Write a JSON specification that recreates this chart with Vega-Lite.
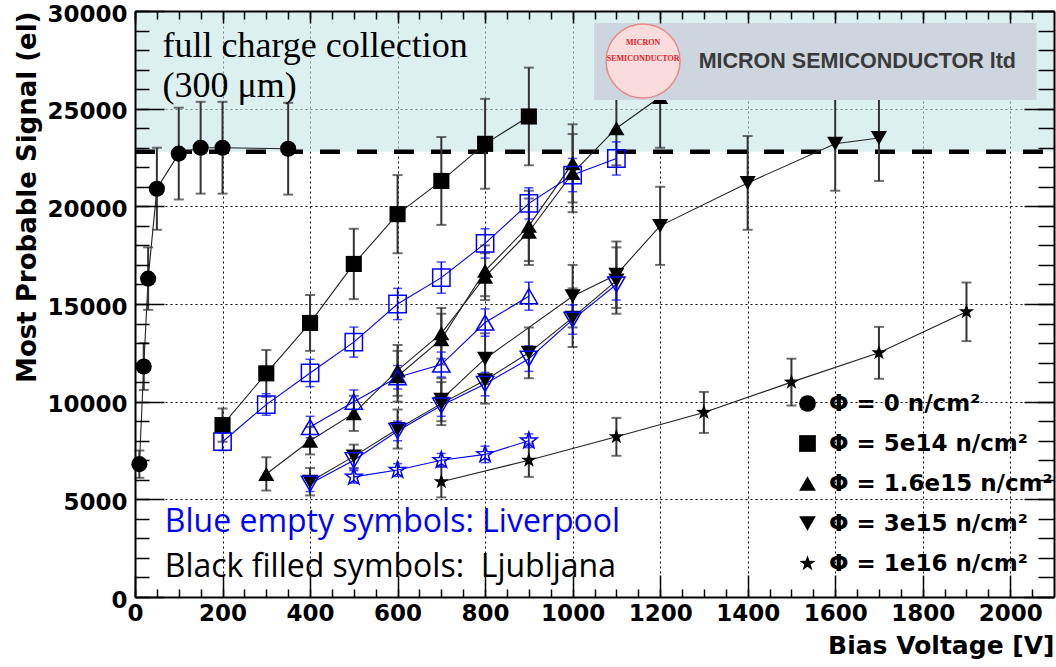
{
  "$schema": "https://vega.github.io/schema/vega-lite/v6.json",
  "width": 919,
  "height": 586,
  "autosize": {"type": "none"},
  "padding": {"left": 135, "top": 11, "right": 2, "bottom": 70},
  "background": "white",
  "config": {"view": {"stroke": null}, "axis": {"domain": false}},
  "datasets": {
    "zone": [{"zone": "full charge collection", "V0": 0, "V1": 2100, "S0": 22800, "S1": 30000}],
    "lj": [
      {"series": "L0", "fluence": "Φ = 0 n/cm²", "V": 10, "S": 6800, "err": 700},
      {"series": "L0", "fluence": "Φ = 0 n/cm²", "V": 20, "S": 11800, "err": 1200},
      {"series": "L0", "fluence": "Φ = 0 n/cm²", "V": 30, "S": 16300, "err": 1600},
      {"series": "L0", "fluence": "Φ = 0 n/cm²", "V": 50, "S": 20900, "err": 2100},
      {"series": "L0", "fluence": "Φ = 0 n/cm²", "V": 100, "S": 22700, "err": 2350},
      {"series": "L0", "fluence": "Φ = 0 n/cm²", "V": 150, "S": 23000, "err": 2350},
      {"series": "L0", "fluence": "Φ = 0 n/cm²", "V": 200, "S": 23000, "err": 2350},
      {"series": "L0", "fluence": "Φ = 0 n/cm²", "V": 350, "S": 22950, "err": 2350},
      {"series": "L5e14", "fluence": "Φ = 5e14 n/cm²", "V": 200, "S": 8800, "err": 850},
      {"series": "L5e14", "fluence": "Φ = 5e14 n/cm²", "V": 300, "S": 11450, "err": 1200},
      {"series": "L5e14", "fluence": "Φ = 5e14 n/cm²", "V": 400, "S": 14030, "err": 1430},
      {"series": "L5e14", "fluence": "Φ = 5e14 n/cm²", "V": 500, "S": 17050, "err": 1800},
      {"series": "L5e14", "fluence": "Φ = 5e14 n/cm²", "V": 600, "S": 19600, "err": 2000},
      {"series": "L5e14", "fluence": "Φ = 5e14 n/cm²", "V": 700, "S": 21300, "err": 2250},
      {"series": "L5e14", "fluence": "Φ = 5e14 n/cm²", "V": 800, "S": 23200, "err": 2300},
      {"series": "L5e14", "fluence": "Φ = 5e14 n/cm²", "V": 900, "S": 24600, "err": 2500},
      {"series": "L16a", "fluence": "Φ = 1.6e15 n/cm²", "V": 300, "S": 6300, "err": 850},
      {"series": "L16a", "fluence": "Φ = 1.6e15 n/cm²", "V": 400, "S": 8000, "err": 700},
      {"series": "L16a", "fluence": "Φ = 1.6e15 n/cm²", "V": 500, "S": 9400, "err": 900},
      {"series": "L16a", "fluence": "Φ = 1.6e15 n/cm²", "V": 600, "S": 11600, "err": 1300},
      {"series": "L16a", "fluence": "Φ = 1.6e15 n/cm²", "V": 700, "S": 13500, "err": 1300},
      {"series": "L16a", "fluence": "Φ = 1.6e15 n/cm²", "V": 800, "S": 16400, "err": 1200},
      {"series": "L16a", "fluence": "Φ = 1.6e15 n/cm²", "V": 900, "S": 18700, "err": 1700},
      {"series": "L16a", "fluence": "Φ = 1.6e15 n/cm²", "V": 1000, "S": 21700, "err": 2000},
      {"series": "L16a", "fluence": "Φ = 1.6e15 n/cm²", "V": 1100, "S": 24000, "err": 1900},
      {"series": "L16a", "fluence": "Φ = 1.6e15 n/cm²", "V": 1200, "S": 25600, "err": 2600},
      {"series": "L16b", "fluence": "Φ = 1.6e15 n/cm²", "V": 600, "S": 11300, "err": 1300},
      {"series": "L16b", "fluence": "Φ = 1.6e15 n/cm²", "V": 700, "S": 13200, "err": 1300},
      {"series": "L16b", "fluence": "Φ = 1.6e15 n/cm²", "V": 800, "S": 16700, "err": 1300},
      {"series": "L16b", "fluence": "Φ = 1.6e15 n/cm²", "V": 900, "S": 19000, "err": 1800},
      {"series": "L16b", "fluence": "Φ = 1.6e15 n/cm²", "V": 1000, "S": 22200, "err": 2000},
      {"series": "L3a", "fluence": "Φ = 3e15 n/cm²", "V": 400, "S": 5900, "err": 700},
      {"series": "L3a", "fluence": "Φ = 3e15 n/cm²", "V": 500, "S": 7200, "err": 600},
      {"series": "L3a", "fluence": "Φ = 3e15 n/cm²", "V": 600, "S": 8600, "err": 1000},
      {"series": "L3a", "fluence": "Φ = 3e15 n/cm²", "V": 700, "S": 9900, "err": 1100},
      {"series": "L3a", "fluence": "Φ = 3e15 n/cm²", "V": 800, "S": 11100, "err": 1200},
      {"series": "L3a", "fluence": "Φ = 3e15 n/cm²", "V": 900, "S": 12500, "err": 1300},
      {"series": "L3a", "fluence": "Φ = 3e15 n/cm²", "V": 1000, "S": 14300, "err": 1500},
      {"series": "L3a", "fluence": "Φ = 3e15 n/cm²", "V": 1100, "S": 16200, "err": 1700},
      {"series": "L3b", "fluence": "Φ = 3e15 n/cm²", "V": 700, "S": 10100, "err": 1100},
      {"series": "L3b", "fluence": "Φ = 3e15 n/cm²", "V": 800, "S": 12200, "err": 1300},
      {"series": "L3b", "fluence": "Φ = 3e15 n/cm²", "V": 1000, "S": 15400, "err": 1600},
      {"series": "L3b", "fluence": "Φ = 3e15 n/cm²", "V": 1100, "S": 16500, "err": 1700},
      {"series": "L3b", "fluence": "Φ = 3e15 n/cm²", "V": 1200, "S": 19000, "err": 2000},
      {"series": "L3b", "fluence": "Φ = 3e15 n/cm²", "V": 1400, "S": 21200, "err": 2400},
      {"series": "L3b", "fluence": "Φ = 3e15 n/cm²", "V": 1600, "S": 23200, "err": 2400},
      {"series": "L3b", "fluence": "Φ = 3e15 n/cm²", "V": 1700, "S": 23500, "err": 2200},
      {"series": "L1e16", "fluence": "Φ = 1e16 n/cm²", "V": 700, "S": 5900, "err": 800},
      {"series": "L1e16", "fluence": "Φ = 1e16 n/cm²", "V": 900, "S": 7000, "err": 850},
      {"series": "L1e16", "fluence": "Φ = 1e16 n/cm²", "V": 1100, "S": 8200, "err": 970},
      {"series": "L1e16", "fluence": "Φ = 1e16 n/cm²", "V": 1300, "S": 9450, "err": 1050},
      {"series": "L1e16", "fluence": "Φ = 1e16 n/cm²", "V": 1500, "S": 11000, "err": 1200},
      {"series": "L1e16", "fluence": "Φ = 1e16 n/cm²", "V": 1700, "S": 12500, "err": 1330},
      {"series": "L1e16", "fluence": "Φ = 1e16 n/cm²", "V": 1900, "S": 14600, "err": 1500}
    ],
    "lv": [
      {"series": "V5e14", "fluence": "Φ = 5e14 n/cm²", "V": 200, "S": 7950, "err": 450},
      {"series": "V5e14", "fluence": "Φ = 5e14 n/cm²", "V": 300, "S": 9850, "err": 550},
      {"series": "V5e14", "fluence": "Φ = 5e14 n/cm²", "V": 400, "S": 11470, "err": 700},
      {"series": "V5e14", "fluence": "Φ = 5e14 n/cm²", "V": 500, "S": 13050, "err": 770},
      {"series": "V5e14", "fluence": "Φ = 5e14 n/cm²", "V": 600, "S": 15000, "err": 800},
      {"series": "V5e14", "fluence": "Φ = 5e14 n/cm²", "V": 700, "S": 16350, "err": 800},
      {"series": "V5e14", "fluence": "Φ = 5e14 n/cm²", "V": 800, "S": 18100, "err": 750},
      {"series": "V5e14", "fluence": "Φ = 5e14 n/cm²", "V": 900, "S": 20150, "err": 800},
      {"series": "V5e14", "fluence": "Φ = 5e14 n/cm²", "V": 1000, "S": 21600, "err": 850},
      {"series": "V5e14", "fluence": "Φ = 5e14 n/cm²", "V": 1100, "S": 22450, "err": 850},
      {"series": "V16", "fluence": "Φ = 1.6e15 n/cm²", "V": 400, "S": 8700, "err": 550},
      {"series": "V16", "fluence": "Φ = 1.6e15 n/cm²", "V": 500, "S": 10000, "err": 600},
      {"series": "V16", "fluence": "Φ = 1.6e15 n/cm²", "V": 600, "S": 11250, "err": 600},
      {"series": "V16", "fluence": "Φ = 1.6e15 n/cm²", "V": 700, "S": 11900, "err": 640},
      {"series": "V16", "fluence": "Φ = 1.6e15 n/cm²", "V": 800, "S": 14050, "err": 700},
      {"series": "V16", "fluence": "Φ = 1.6e15 n/cm²", "V": 900, "S": 15400, "err": 720},
      {"series": "V3", "fluence": "Φ = 3e15 n/cm²", "V": 400, "S": 5800, "err": 400},
      {"series": "V3", "fluence": "Φ = 3e15 n/cm²", "V": 500, "S": 7000, "err": 450},
      {"series": "V3", "fluence": "Φ = 3e15 n/cm²", "V": 600, "S": 8500, "err": 500},
      {"series": "V3", "fluence": "Φ = 3e15 n/cm²", "V": 700, "S": 9800, "err": 550},
      {"series": "V3", "fluence": "Φ = 3e15 n/cm²", "V": 800, "S": 10900, "err": 600},
      {"series": "V3", "fluence": "Φ = 3e15 n/cm²", "V": 900, "S": 12200, "err": 650},
      {"series": "V3", "fluence": "Φ = 3e15 n/cm²", "V": 1000, "S": 14200, "err": 750},
      {"series": "V3", "fluence": "Φ = 3e15 n/cm²", "V": 1100, "S": 16000, "err": 800},
      {"series": "V1e16", "fluence": "Φ = 1e16 n/cm²", "V": 500, "S": 6150, "err": 320},
      {"series": "V1e16", "fluence": "Φ = 1e16 n/cm²", "V": 600, "S": 6500, "err": 330},
      {"series": "V1e16", "fluence": "Φ = 1e16 n/cm²", "V": 700, "S": 7000, "err": 350},
      {"series": "V1e16", "fluence": "Φ = 1e16 n/cm²", "V": 800, "S": 7300, "err": 420},
      {"series": "V1e16", "fluence": "Φ = 1e16 n/cm²", "V": 900, "S": 8000, "err": 350}
    ],
    "logo": [{"name": "MICRON SEMICONDUCTOR ltd", "V0": 1049, "V1": 2060, "S0": 25444, "S1": 29386, "Vc": 1161, "Sc": 27440, "Vt": 1288, "St": 27390}],
    "logoRed": [{"label": "MICRON", "V": 1161, "S": 28360}, {"label": "SEMICONDUCTOR", "V": 1161, "S": 27540}],
    "serif": [{"label": "full charge collection", "V": 63, "S": 27640}, {"label": "(300 μm)", "V": 63, "S": 25600}],
    "blueNote": [{"label": "Blue empty symbols: Liverpool", "V": 68, "S": 3330}],
    "blackNote": [{"label": "Black filled symbols:\u00a0 Ljubljana", "V": 68, "S": 1020}]
  },
  "resolve": {"axis": {"x": "independent", "y": "independent"}},
  "layer": [
    {
      "data": {"name": "zone"},
      "mark": {"type": "rect", "color": "#c4e6e6", "opacity": 0.6},
      "encoding": {
        "x": {"field": "V0", "type": "quantitative", "scale": {"domain": [0, 2100], "nice": false, "zero": false},
          "axis": {"orient": "bottom", "values": [0, 200, 400, 600, 800, 1000, 1200, 1400, 1600, 1800, 2000], "format": "d",
            "grid": true, "gridColor": "black", "gridDash": [2, 3], "gridWidth": 1, "gridOpacity": 1,
            "ticks": false, "domain": false, "labelFlush": false, "labelOverlap": false,
            "labelFont": "DejaVu Sans", "labelFontWeight": "bold", "labelFontSize": 23, "labelColor": "black", "labelPadding": 5,
            "title": "Bias Voltage [V]", "titleFont": "DejaVu Sans", "titleFontWeight": "bold", "titleFontSize": 25, "titleColor": "black",
            "titleAnchor": "end", "titlePadding": 8}},
        "x2": {"field": "V1"},
        "y": {"field": "S0", "type": "quantitative", "scale": {"domain": [0, 30000], "nice": false, "zero": false},
          "axis": {"orient": "left", "values": [0, 5000, 10000, 15000, 20000, 25000, 30000], "format": "d",
            "grid": true, "gridColor": "black", "gridDash": [2, 3], "gridWidth": 1, "gridOpacity": 1,
            "ticks": false, "domain": false, "labelFlush": false, "labelOverlap": false, "labelOffset": 3,
            "labelFont": "DejaVu Sans", "labelFontWeight": "bold", "labelFontSize": 23, "labelColor": "black", "labelPadding": 8,
            "title": "Most Probable Signal (el)", "titleFont": "DejaVu Sans", "titleFontWeight": "bold", "titleFontSize": 26, "titleColor": "black",
            "titleAnchor": "end", "titlePadding": 6}},
        "y2": {"field": "S1"}
      }
    },
    {
      "data": {"name": "zone"},
      "mark": {"type": "rule", "color": "black", "strokeWidth": 4.5, "strokeDash": [20, 17]},
      "encoding": {
        "x": {"field": "V0", "type": "quantitative",
          "axis": {"orient": "bottom", "values": [0, 200, 400, 600, 800, 1000, 1200, 1400, 1600, 1800, 2000], "labels": false, "grid": false, "title": null,
            "ticks": true, "tickSize": 22, "offset": -22, "tickColor": "black", "tickWidth": 1.5, "domain": false, "zindex": 1}},
        "x2": {"field": "V1"},
        "y": {"field": "S0", "type": "quantitative",
          "axis": {"orient": "left", "values": [0, 5000, 10000, 15000, 20000, 25000, 30000], "labels": false, "grid": false, "title": null,
            "ticks": true, "tickSize": 29, "offset": -29, "tickColor": "black", "tickWidth": 1.5, "domain": false, "zindex": 1}}
      }
    },
    {
      "data": {"name": "lj"},
      "mark": {"type": "line", "color": "#222222", "strokeWidth": 1.1},
      "encoding": {
        "x": {"field": "V", "type": "quantitative",
          "axis": {"orient": "bottom", "values": [0, 50, 100, 150, 200, 250, 300, 350, 400, 450, 500, 550, 600, 650, 700, 750, 800, 850, 900, 950, 1000, 1050, 1100, 1150, 1200, 1250, 1300, 1350, 1400, 1450, 1500, 1550, 1600, 1650, 1700, 1750, 1800, 1850, 1900, 1950, 2000, 2050],
            "labels": false, "grid": false, "title": null, "ticks": true, "tickSize": 8, "offset": -8, "tickColor": "black", "tickWidth": 1.5, "domain": false, "zindex": 1}},
        "y": {"field": "S", "type": "quantitative",
          "axis": {"orient": "left", "values": [0, 1000, 2000, 3000, 4000, 5000, 6000, 7000, 8000, 9000, 10000, 11000, 12000, 13000, 14000, 15000, 16000, 17000, 18000, 19000, 20000, 21000, 22000, 23000, 24000, 25000, 26000, 27000, 28000, 29000, 30000],
            "labels": false, "grid": false, "title": null, "ticks": true, "tickSize": 14, "offset": -14, "tickColor": "black", "tickWidth": 1.5, "domain": false, "zindex": 1}},
        "detail": {"field": "series"}
      }
    },
    {
      "data": {"name": "lv"},
      "mark": {"type": "line", "color": "#0000ff", "strokeWidth": 1.1},
      "encoding": {
        "x": {"field": "V", "type": "quantitative",
          "axis": {"orient": "top", "values": [0, 200, 400, 600, 800, 1000, 1200, 1400, 1600, 1800, 2000], "labels": false, "grid": false, "title": null,
            "ticks": true, "tickSize": 12, "offset": -12, "tickColor": "black", "tickWidth": 1.5, "domain": false, "zindex": 1}},
        "y": {"field": "S", "type": "quantitative",
          "axis": {"orient": "right", "values": [0, 5000, 10000, 15000, 20000, 25000, 30000], "labels": false, "grid": false, "title": null,
            "ticks": true, "tickSize": 30, "offset": -30, "tickColor": "black", "tickWidth": 1.5, "domain": false, "zindex": 1}},
        "detail": {"field": "series"}
      }
    },
    {
      "data": {"name": "lj"},
      "mark": {"type": "errorbar", "ticks": true, "color": "#333333", "thickness": 2, "size": 10},
      "encoding": {
        "x": {"field": "V", "type": "quantitative", "axis": null},
        "y": {"field": "S", "type": "quantitative", "axis": null},
        "yError": {"field": "err"}
      }
    },
    {
      "data": {"name": "lv"},
      "mark": {"type": "errorbar", "ticks": true, "color": "#0000ff", "thickness": 1.5, "size": 9},
      "encoding": {
        "x": {"field": "V", "type": "quantitative", "axis": null},
        "y": {"field": "S", "type": "quantitative", "axis": null},
        "yError": {"field": "err"}
      }
    },
    {
      "data": {"name": "lj"},
      "mark": {"type": "point", "filled": true, "color": "black", "size": 260, "opacity": 1},
      "encoding": {
        "x": {"field": "V", "type": "quantitative",
          "axis": {"orient": "top", "values": [0, 50, 100, 150, 200, 250, 300, 350, 400, 450, 500, 550, 600, 650, 700, 750, 800, 850, 900, 950, 1000, 1050, 1100, 1150, 1200, 1250, 1300, 1350, 1400, 1450, 1500, 1550, 1600, 1650, 1700, 1750, 1800, 1850, 1900, 1950, 2000, 2050],
            "labels": false, "grid": false, "title": null, "ticks": true, "tickSize": 8, "offset": -8, "tickColor": "black", "tickWidth": 1.5, "domain": false, "zindex": 1}},
        "y": {"field": "S", "type": "quantitative",
          "axis": {"orient": "right", "values": [0, 1000, 2000, 3000, 4000, 5000, 6000, 7000, 8000, 9000, 10000, 11000, 12000, 13000, 14000, 15000, 16000, 17000, 18000, 19000, 20000, 21000, 22000, 23000, 24000, 25000, 26000, 27000, 28000, 29000, 30000],
            "labels": false, "grid": false, "title": null, "ticks": true, "tickSize": 16, "offset": -16, "tickColor": "black", "tickWidth": 1.5, "domain": false, "zindex": 1}},
        "shape": {"field": "fluence", "type": "nominal",
          "scale": {"domain": ["Φ = 0 n/cm²", "Φ = 5e14 n/cm²", "Φ = 1.6e15 n/cm²", "Φ = 3e15 n/cm²", "Φ = 1e16 n/cm²"],
            "range": ["circle", "square", "triangle-up", "triangle-down", "M0,-1L0.235,-0.324L0.951,-0.309L0.38,0.124L0.588,0.809L0,0.4L-0.588,0.809L-0.38,0.124L-0.951,-0.309L-0.235,-0.324Z"]},
          "legend": {"orient": "none", "legendX": 661, "legendY": 381, "title": null, "padding": 0,
            "labelFont": "DejaVu Sans", "labelFontWeight": "bold", "labelFontSize": 23, "labelColor": "black", "labelLimit": 0, "labelOffset": 10,
            "symbolSize": 280, "symbolFillColor": "black", "symbolStrokeColor": "black", "symbolStrokeWidth": 0, "rowPadding": 16}}
      }
    },
    {
      "data": {"name": "lv"},
      "mark": {"type": "point", "filled": false, "color": "#0000ff", "size": 300, "strokeWidth": 1.5, "opacity": 1},
      "encoding": {
        "x": {"field": "V", "type": "quantitative", "axis": null},
        "y": {"field": "S", "type": "quantitative", "axis": null},
        "shape": {"field": "fluence", "type": "nominal", "legend": null}
      }
    },
    {
      "data": {"name": "logo"},
      "mark": {"type": "rect", "color": "#cdd5de"},
      "encoding": {
        "x": {"field": "V0", "type": "quantitative", "axis": null},
        "x2": {"field": "V1"},
        "y": {"field": "S0", "type": "quantitative", "axis": null},
        "y2": {"field": "S1"}
      }
    },
    {
      "data": {"name": "logo"},
      "mark": {"type": "point", "shape": "circle", "filled": true, "fill": "#fadcdc", "stroke": "#e88a8a", "strokeWidth": 1.5, "size": 5476, "opacity": 1},
      "encoding": {
        "x": {"field": "Vc", "type": "quantitative", "axis": null},
        "y": {"field": "Sc", "type": "quantitative", "axis": null}
      }
    },
    {
      "data": {"name": "logoRed"},
      "mark": {"type": "text", "font": "Liberation Serif", "fontWeight": "bold", "fontSize": 8, "color": "#e8202a", "align": "center", "baseline": "middle"},
      "encoding": {
        "x": {"field": "V", "type": "quantitative", "axis": null},
        "y": {"field": "S", "type": "quantitative", "axis": null},
        "text": {"field": "label"}
      }
    },
    {
      "data": {"name": "logo"},
      "mark": {"type": "text", "font": "Liberation Sans", "fontWeight": "bold", "fontSize": 21.5, "color": "#3a3a3a", "align": "left", "baseline": "middle"},
      "encoding": {
        "x": {"field": "Vt", "type": "quantitative", "axis": null},
        "y": {"field": "St", "type": "quantitative", "axis": null},
        "text": {"field": "name"}
      }
    },
    {
      "data": {"name": "serif"},
      "mark": {"type": "text", "font": "Liberation Serif", "fontSize": 36, "color": "black", "align": "left", "baseline": "alphabetic"},
      "encoding": {
        "x": {"field": "V", "type": "quantitative",
          "axis": {"orient": "bottom", "labels": false, "ticks": false, "grid": false, "title": null, "domain": true, "domainColor": "black", "domainWidth": 2, "zindex": 1}},
        "y": {"field": "S", "type": "quantitative",
          "axis": {"orient": "left", "labels": false, "ticks": false, "grid": false, "title": null, "domain": true, "domainColor": "black", "domainWidth": 2, "zindex": 1}},
        "text": {"field": "label"}
      }
    },
    {
      "data": {"name": "blueNote"},
      "mark": {"type": "text", "font": "Open Sans", "fontSize": 32, "color": "#0000ff", "align": "left", "baseline": "alphabetic"},
      "encoding": {
        "x": {"field": "V", "type": "quantitative",
          "axis": {"orient": "top", "labels": false, "ticks": false, "grid": false, "title": null, "domain": true, "domainColor": "black", "domainWidth": 2, "zindex": 1}},
        "y": {"field": "S", "type": "quantitative",
          "axis": {"orient": "right", "labels": false, "ticks": false, "grid": false, "title": null, "domain": true, "domainColor": "black", "domainWidth": 2, "zindex": 1}},
        "text": {"field": "label"}
      }
    },
    {
      "data": {"name": "blackNote"},
      "mark": {"type": "text", "font": "Open Sans", "fontSize": 32, "color": "black", "align": "left", "baseline": "alphabetic"},
      "encoding": {
        "x": {"field": "V", "type": "quantitative", "axis": null},
        "y": {"field": "S", "type": "quantitative", "axis": null},
        "text": {"field": "label"}
      }
    }
  ]
}
